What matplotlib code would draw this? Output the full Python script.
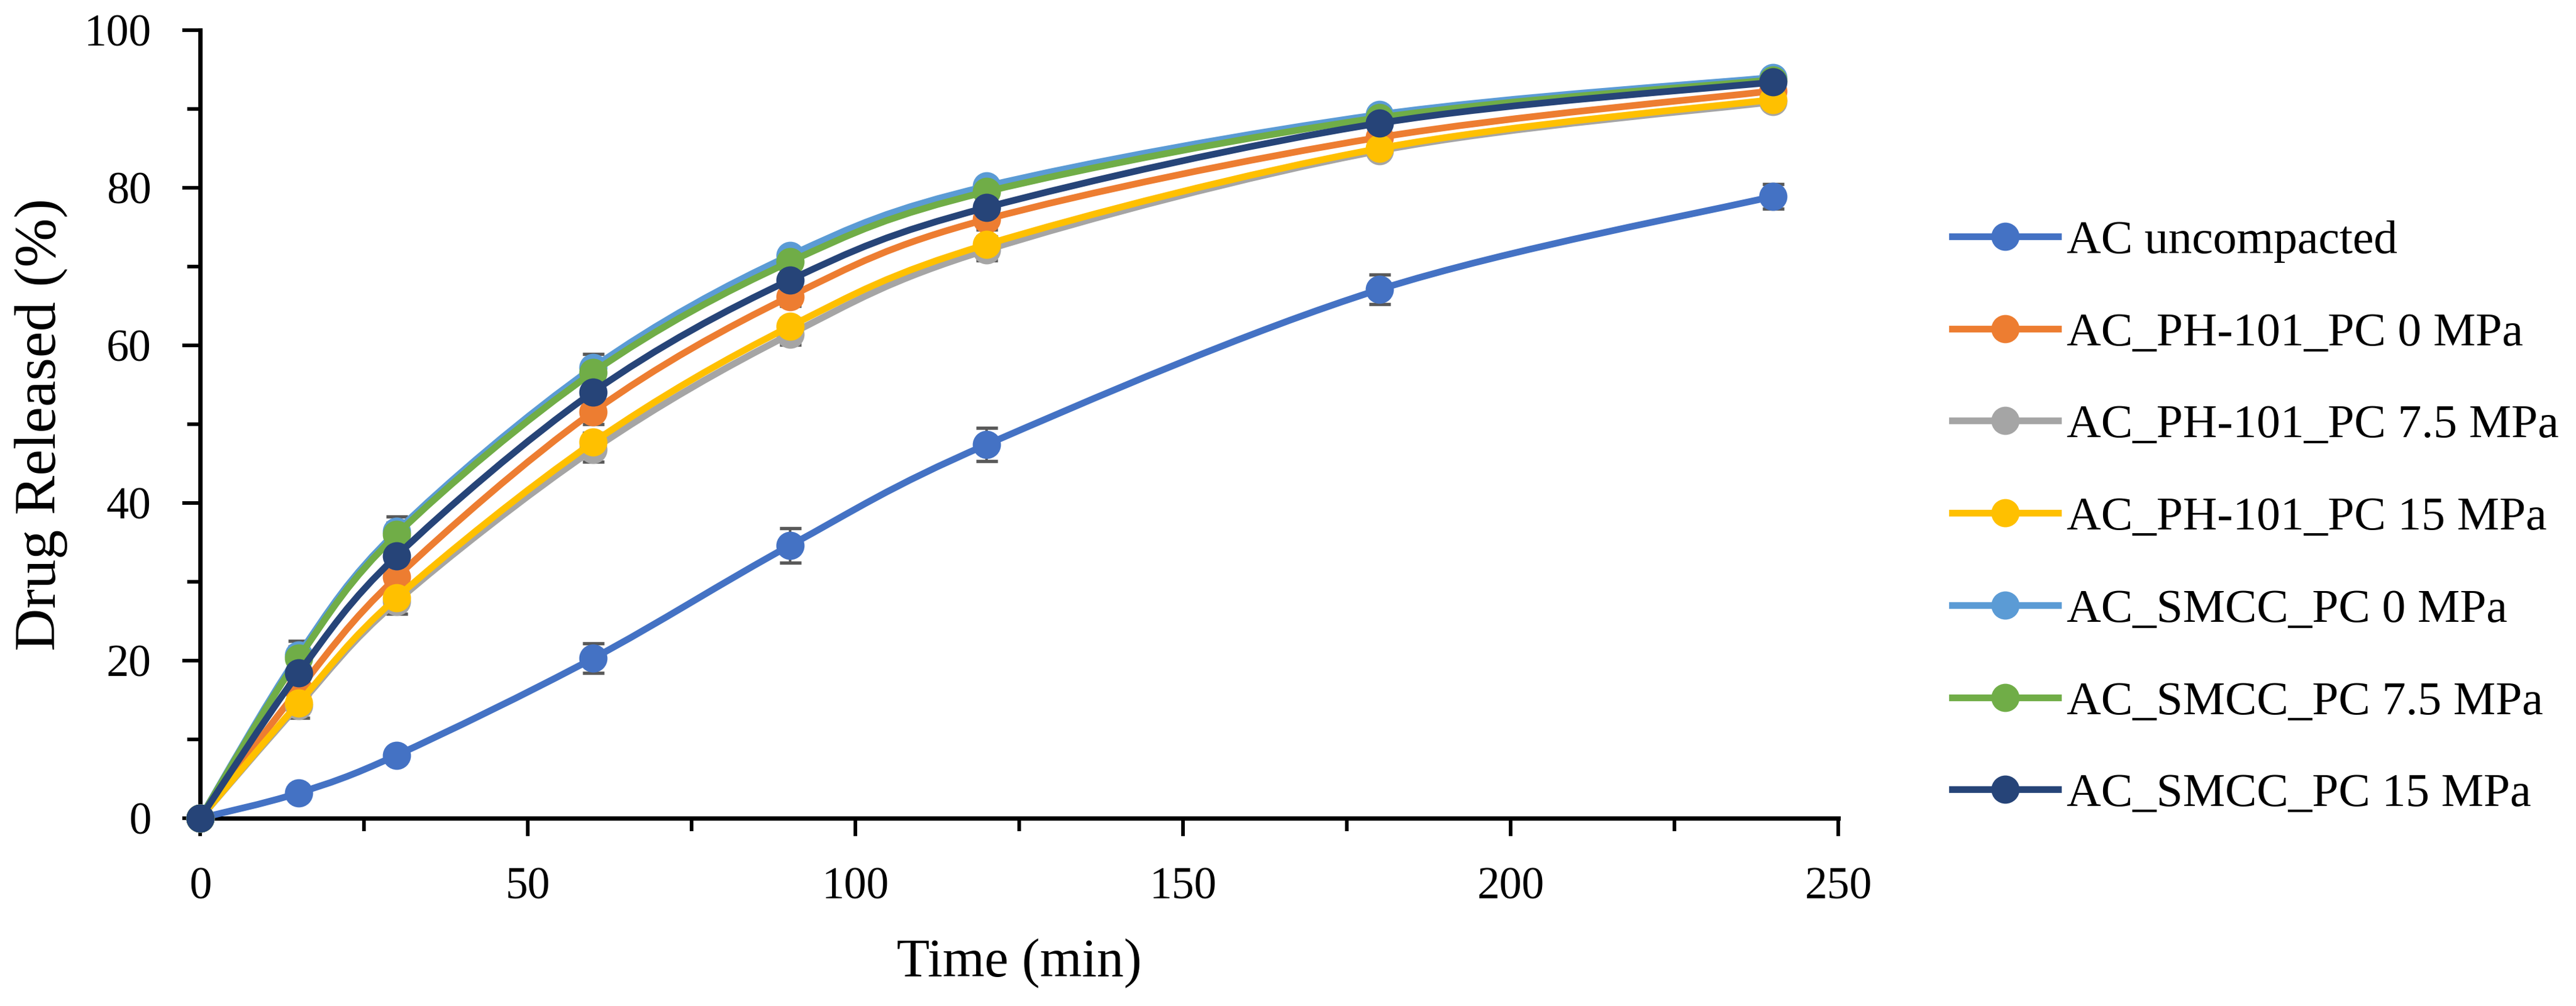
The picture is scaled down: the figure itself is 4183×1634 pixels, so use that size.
import numpy as np
import matplotlib
matplotlib.use("Agg")
import matplotlib.pyplot as plt
from matplotlib.path import Path
from matplotlib.patches import PathPatch
from matplotlib.ticker import MultipleLocator

plt.rcParams['font.family'] = ['Liberation Serif', 'DejaVu Serif']

# sampling times (min)
time_min = [0, 15, 30, 60, 90, 120, 180, 240]

labels = ["AC uncompacted",
          "AC_PH-101_PC 0 MPa",
          "AC_PH-101_PC 7.5 MPa",
          "AC_PH-101_PC 15 MPa",
          "AC_SMCC_PC 0 MPa",
          "AC_SMCC_PC 7.5 MPa",
          "AC_SMCC_PC 15 MPa"]

# mean drug released (%)
ac_uncompacted = [0, 3.2, 8.0, 20.3, 34.6, 47.4, 67.1, 78.9]
ph101_0 = [0, 16.3, 30.6, 51.6, 66.2, 76.0, 86.4, 92.3]
ph101_75 = [0, 14.3, 27.5, 46.8, 61.4, 72.1, 84.7, 90.9]
ph101_15 = [0, 14.6, 28.0, 47.7, 62.4, 72.8, 85.0, 91.2]
smcc_0 = [0, 20.7, 36.4, 57.2, 71.4, 80.2, 89.3, 94.0]
smcc_75 = [0, 20.3, 36.0, 56.6, 70.6, 79.5, 88.9, 93.7]
smcc_15 = [0, 18.4, 33.3, 54.1, 68.3, 77.5, 88.2, 93.4]

# standard deviations (%)
sd_ac = [0, 0.4, 0.6, 1.85, 2.2, 2.1, 1.9, 1.55]
sd_ph0 = [0, 1.0, 1.2, 1.6, 1.2, 1.3, 0.8, 0.6]
sd_ph75 = [0, 1.6, 1.6, 1.6, 1.3, 1.3, 0.6, 0.5]
sd_ph15 = [0, 1.2, 1.3, 1.2, 1.0, 1.0, 0.6, 0.5]
sd_smcc0 = [0, 1.8, 1.9, 1.7, 0.9, 0.7, 0.5, 0.4]
sd_smcc75 = [0, 1.5, 1.5, 1.2, 0.8, 0.6, 0.5, 0.4]
sd_smcc15 = [0, 1.2, 1.2, 1.0, 0.8, 0.6, 0.5, 0.4]

colors = ["#4472C4", "#ED7D31", "#A5A5A5", "#FFC000",
          "#5B9BD5", "#70AD47", "#264478"]

series = [ac_uncompacted, ph101_0, ph101_75, ph101_15, smcc_0, smcc_75, smcc_15]
errors = [sd_ac, sd_ph0, sd_ph75, sd_ph15, sd_smcc0, sd_smcc75, sd_smcc15]


def smooth_path(x, y):
    # Excel-style smoothed line: cubic bezier through the points
    pts = np.column_stack([x, y]).astype(float)
    n = len(pts)
    verts = [pts[0]]
    codes = [Path.MOVETO]
    for i in range(n - 1):
        p0 = pts[i - 1] if i > 0 else pts[i]
        p1 = pts[i]
        p2 = pts[i + 1]
        p3 = pts[i + 2] if i + 2 < n else pts[i + 1]
        c1 = p1 + (p2 - p0) / 6.0
        c2 = p2 - (p3 - p1) / 6.0
        verts += [c1, c2, p2]
        codes += [Path.CURVE4] * 3
    return Path(verts, codes)


fig = plt.figure(figsize=(4183 / 300, 1634 / 300), dpi=300)
ax = fig.add_axes([325 / 4183, 1 - 1329 / 1634, 2660 / 4183, 1280 / 1634])

lw = 2.6
ms = 11
handles = []
for i, (vals, sd, col, lab) in enumerate(zip(series, errors, colors, labels)):
    z = 3 + i
    ax.errorbar(time_min, vals, yerr=sd, fmt='none', ecolor='#595959',
                elinewidth=1.0, capsize=4.2, capthick=1.3, zorder=2, clip_on=False)
    patch = PathPatch(smooth_path(time_min, vals), fill=False, edgecolor=col,
                      lw=lw, capstyle='round', joinstyle='round', zorder=z)
    ax.add_patch(patch)
    ax.plot(time_min, vals, 'o', color=col, ms=ms, mew=0, zorder=z + 0.5,
            clip_on=False)
    h, = ax.plot([], [], '-o', color=col, lw=lw, ms=ms, mew=0, label=lab)
    handles.append(h)

ax.set_xlim(0, 250)
ax.set_ylim(0, 100)
ax.xaxis.set_major_locator(MultipleLocator(50))
ax.xaxis.set_minor_locator(MultipleLocator(25))
ax.yaxis.set_major_locator(MultipleLocator(20))
ax.yaxis.set_minor_locator(MultipleLocator(10))

for s in ['top', 'right']:
    ax.spines[s].set_visible(False)
for s in ['left', 'bottom']:
    ax.spines[s].set_linewidth(1.7)
    ax.spines[s].set_color('black')

ax.tick_params(which='major', direction='out', length=7, width=1.4,
               labelsize=17.5, pad=12)
ax.tick_params(which='minor', direction='out', length=5, width=1.4)

ax.set_xlabel("Time (min)", fontsize=21)
ax.set_ylabel("Drug Released (%)", fontsize=23)
ax.xaxis.set_label_coords(0.5, -0.152)
ax.yaxis.set_label_coords(-0.081, 0.5)

fig.legend(handles=handles, loc='upper left', bbox_to_anchor=(3170 / 4183, 1 - 357 / 1634),
           frameon=False, fontsize=18.5, handlelength=2.23, handletextpad=0.18,
           labelspacing=1.035, borderpad=0, borderaxespad=0)

fig.savefig("out.png", dpi=300)
